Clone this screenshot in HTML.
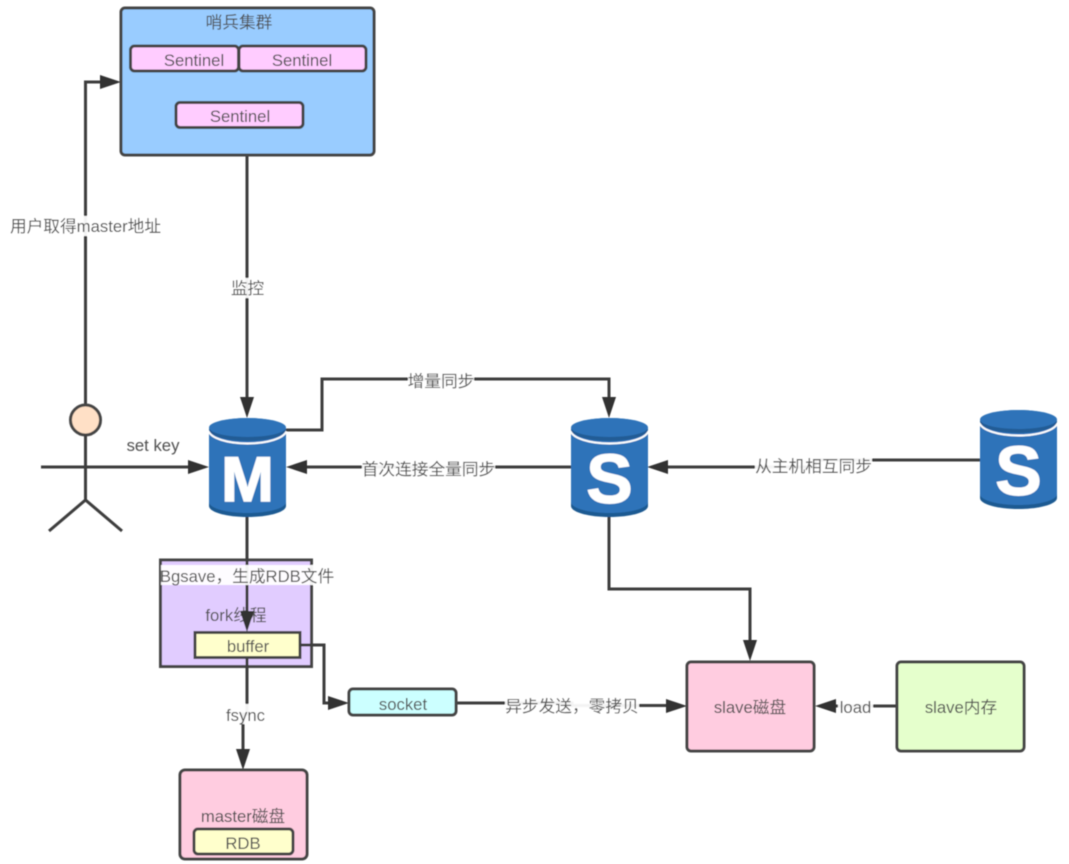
<!DOCTYPE html>
<html>
<head>
<meta charset="utf-8">
<style>
html,body{margin:0;padding:0;background:#fff;width:1069px;height:864px;overflow:hidden}
svg{display:block}
text{font-family:"Liberation Sans","Noto Sans CJK SC",sans-serif;font-size:16.700px;fill:#505050;text-anchor:middle}
.b{stroke:#444;stroke-width:3}
.l{fill:none;stroke:#3c3c3c;stroke-width:3}
.h{fill:#333}
.lb{fill:#fff;fill-opacity:.94}
</style>
</head>
<body>
<svg width="1069" height="864" viewBox="0 0 1069 864" xmlns="http://www.w3.org/2000/svg">
<defs>
<filter id="s" x="-2%" y="-2%" width="104%" height="104%"><feGaussianBlur stdDeviation="0.55"/></filter>
<g id="cyl">
<path d="M0 15H77V88C77 94 60 99 38.5 99S0 94 0 88Z" fill="#1f5a92"/>
<path d="M0 15H77V84C77 90 60 95 38.5 95S0 90 0 84Z" fill="#2f73b9"/>
<path d="M0 13.500C2 20 18 25.500 38.5 25.500S75 20 77 13.500" fill="none" stroke="#fff" stroke-width="2"/>
<ellipse cx="38.5" cy="11.500" rx="38.5" ry="11.500" fill="#205c95"/>
<ellipse cx="38.5" cy="9.500" rx="38.5" ry="9.500" fill="#2f73b9"/>
</g>
</defs>
<g filter="url(#s)">

<!-- connectors -->
<path class="l" d="M85.500 405V82H108"/>
<path class="h" d="M121 82L100 75V89Z"/>
<path class="l" d="M247 155V405"/>
<path class="h" d="M247 418L240 397H254Z"/>
<path class="l" d="M286 430H322V379H609V405"/>
<path class="h" d="M609 418L602 397H616Z"/>
<path class="l" d="M571 467H300"/>
<path class="h" d="M286 467L307 460V474Z"/>
<path class="l" d="M980 460H815V467H660"/>
<path class="h" d="M647 467L668 460V474Z"/>
<path class="l" d="M609 517V589H750V648"/>
<path class="h" d="M750 661L743 640H757Z"/>
<path class="l" d="M41 467H196"/>
<path class="h" d="M209 467L188 460V474Z"/>
<path class="l" d="M456 703H572V705.500H674"/>
<path class="h" d="M687 706L666 699V713Z"/>
<path class="l" d="M897 706H828"/>
<path class="h" d="M815 706L836 699V713Z"/>

<!-- sentinel cluster -->
<rect class="b" x="121" y="8" width="253" height="147" rx="4" fill="#99ccff"/>
<rect class="b" x="130.500" y="46" width="108" height="25" rx="4" fill="#ffccff"/>
<rect class="b" x="239" y="46" width="127" height="25" rx="4" fill="#ffccff"/>
<rect class="b" x="176" y="102.500" width="127" height="25" rx="4" fill="#ffccff"/>
<text x="239" y="28">哨兵集群</text>
<text x="194" y="66">Sentinel</text>
<text x="302" y="66">Sentinel</text>
<text x="240" y="122">Sentinel</text>

<!-- person -->
<circle class="b" cx="85.500" cy="420" r="15" fill="#ffe0c6"/>
<path class="l" d="M85.500 435V500M49 531L85.500 500L122 531"/>

<!-- cylinders -->
<use href="#cyl" x="209" y="418"/>
<use href="#cyl" x="571" y="418"/>
<use href="#cyl" x="980" y="410"/>
<text x="247.500" y="501" style="font-size:63px;font-weight:bold;fill:#fff;stroke:#fff;stroke-width:1.500">M</text>
<text x="609.500" y="503" style="font-size:70px;font-weight:bold;fill:#fff;stroke:#fff;stroke-width:1">S</text>
<text x="1018.500" y="495" style="font-size:70px;font-weight:bold;fill:#fff;stroke:#fff;stroke-width:1">S</text>

<!-- fork box -->
<rect class="b" x="160.500" y="560" width="151" height="106.500" fill="#e1ccff"/>
<text x="236" y="621">fork线程</text>
<path class="l" d="M247 517V622"/>
<path class="h" d="M247 632L240 611H254Z"/>
<rect class="b" x="195" y="632.500" width="105" height="25" fill="#ffffcc"/>
<text x="248" y="652">buffer</text>
<path class="l" d="M300 645H324V703H336"/>
<path class="h" d="M349 703L328 696V710Z"/>
<path class="l" d="M247 658V714H243V757"/>
<path class="h" d="M243 770L236 749H250Z"/>

<!-- socket -->
<rect class="b" x="349" y="689" width="107" height="26" rx="4" fill="#ccffff"/>
<text x="403" y="710">socket</text>

<!-- master disk -->
<rect class="b" x="180" y="770" width="127" height="89" rx="5" fill="#ffcce0"/>
<text x="243" y="822">master磁盘</text>
<rect class="b" x="194" y="829" width="99" height="25" rx="4" fill="#ffffcc"/>
<text x="243" y="849">RDB</text>

<!-- slave disk / memory -->
<rect class="b" x="687" y="662" width="127" height="89" rx="4" fill="#ffcce0"/>
<text x="750" y="713">slave磁盘</text>
<rect class="b" x="897" y="662" width="127" height="89" rx="4" fill="#e5ffcc"/>
<text x="961" y="713">slave内存</text>

<!-- labels -->
<text x="153" y="451">set key</text>

<rect class="lb" x="8" y="216" width="155" height="20"/>
<text x="85.500" y="232">用户取得master地址</text>
<rect class="lb" x="231" y="278" width="33" height="20"/>
<text x="247.500" y="294">监控</text>
<rect class="lb" x="408" y="370" width="66" height="20"/>
<text x="441" y="387">增量同步</text>
<rect class="lb" x="362" y="459" width="133" height="20"/>
<text x="428.500" y="475">首次连接全量同步</text>
<rect class="lb" x="755" y="456" width="117" height="20"/>
<text x="813.500" y="472">从主机相互同步</text>
<rect class="lb" x="161" y="565" width="172" height="20"/>
<text x="247" y="582">Bgsave，生成RDB文件</text>
<rect class="lb" x="225" y="704" width="41" height="20"/>
<text x="245.500" y="721">fsync</text>
<rect class="lb" x="505" y="696" width="134" height="20"/>
<text x="572" y="712">异步发送，零拷贝</text>
<rect class="lb" x="838" y="696" width="35" height="21"/>
<text x="855.500" y="713">load</text>
</g>
</svg>
</body>
</html>
